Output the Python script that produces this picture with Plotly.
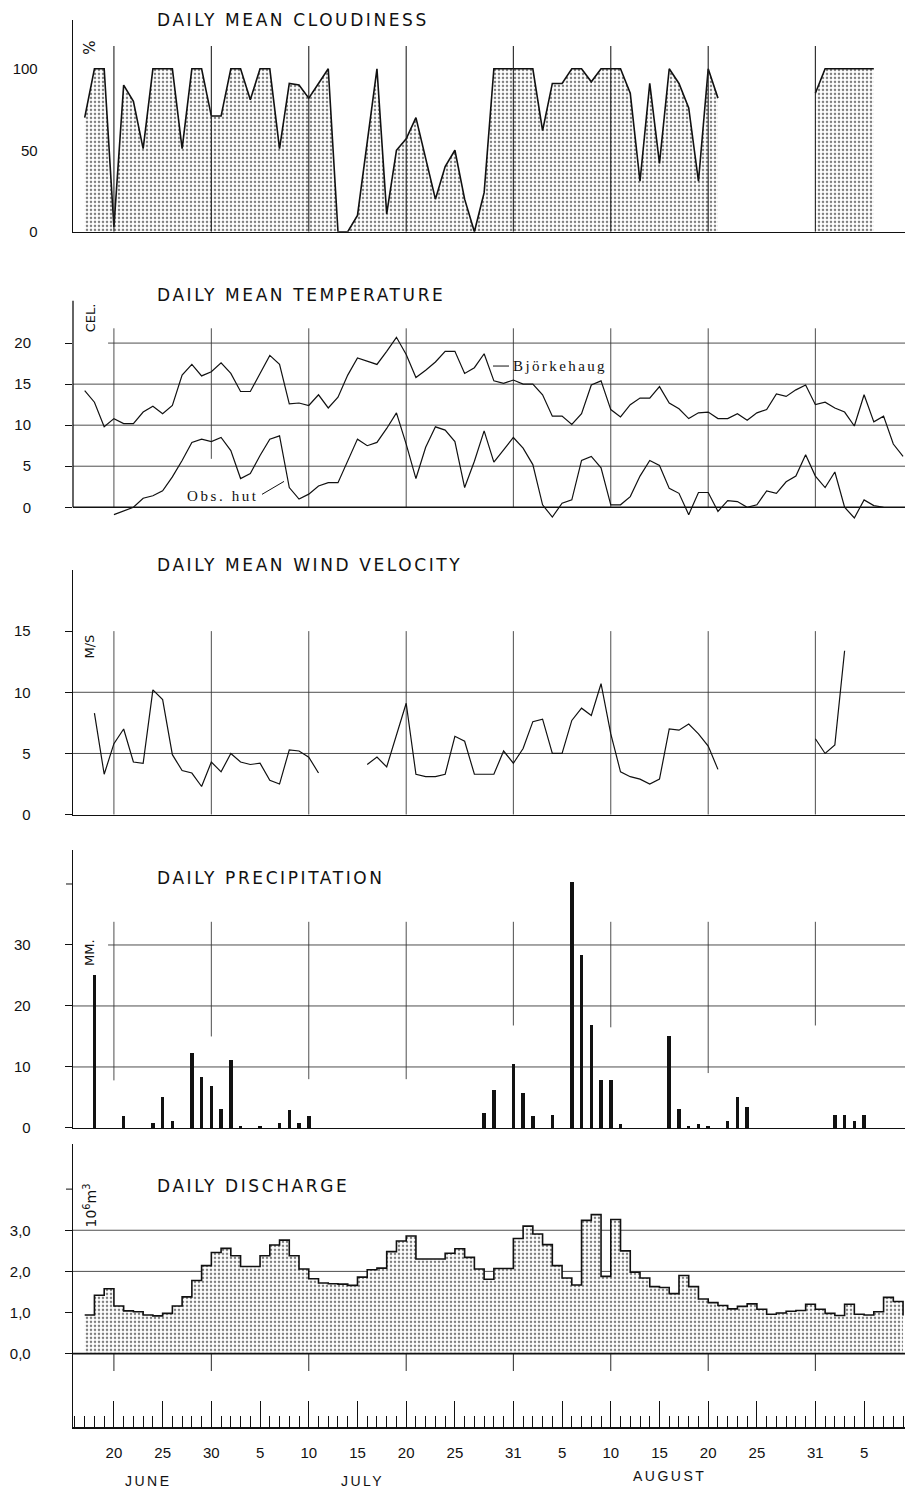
import plotly.graph_objects as go

# ---------------- data (day numbers: 1 = 1 June) ----------------
cloud_days = list(range(17, 99))
cloud_pct = [
    70, 100, 100, 3, 90, 80, 51, 100, 100, 100,       # 17-26
    51, 100, 100, 71, 71, 100, 100, 81, 100, 100,     # 27-36
    51, 91, 90, 82, 91, 100, 0, 0, 10, 55,            # 37-46
    100, 11, 50, 57, 70, 45, 20, 40, 50, 20,          # 47-56
    0, 24, 100, 100, 100, 100, 100, 62, 91, 91,       # 57-66
    100, 100, 92, 100, 100, 100, 85, 31, 91, 42,      # 67-76
    100, 91, 76, 31, 100, 82,                         # 77-82
    None, None, None, None, None, None, None, None, None,  # 83-91
    85, 100, 100, 100, 100, 100, 100,                 # 92-98
]

temp_bj_days = list(range(17, 102))
temp_bj = [
    14.2, 12.8, 9.8, 10.8, 10.2, 10.2, 11.6, 12.3, 11.4, 12.4,
    16.1, 17.4, 16.0, 16.5, 17.6, 16.3, 14.1, 14.1, 16.3, 18.5,
    17.4, 12.6, 12.7, 12.4, 13.7, 12.1, 13.4, 16.1, 18.2, 17.8,
    17.4, 19.0, 20.7, 18.6, 15.8, 16.7, 17.7, 19.0, 19.0, 16.3,
    17.0, 18.7, 15.4, 15.1, 15.5, 15.0, 15.0, 13.7, 11.1, 11.1,
    10.1, 11.4, 14.9, 15.4, 11.9, 11.0, 12.5, 13.3, 13.3, 14.7,
    12.7, 12.0, 10.8, 11.5, 11.6, 10.8, 10.8, 11.4, 10.6, 11.5,
    11.9, 13.8, 13.5, 14.3, 14.9, 12.5, 12.8, 12.1, 11.6, 9.9,
    13.7, 10.4, 11.1, 7.7, 6.2,
]

temp_hut_days = list(range(20, 100))
temp_hut = [
    -0.9, -0.45, 0.0, 1.1, 1.4, 2.0, 3.7, 5.7, 7.9, 8.3,
    8.0, 8.5, 6.9, 3.5, 4.1, 6.3, 8.3, 8.7, 2.4, 1.0,
    1.6, 2.6, 3.0, 3.0, 5.7, 8.3, 7.5, 7.9, 9.6, 11.5,
    7.7, 3.5, 7.3, 9.8, 9.4, 8.0, 2.4, 5.6, 9.3, 5.5,
    7.0, 8.5, 7.2, 5.2, 0.3, -1.2, 0.5, 0.9, 5.7, 6.2,
    4.8, 0.3, 0.3, 1.3, 3.8, 5.7, 5.1, 2.3, 1.7, -0.9,
    1.8, 1.8, -0.5, 0.8, 0.7, 0.0, 0.3, 2.0, 1.7, 3.1,
    3.8, 6.4, 3.8, 2.4, 4.3, 0.0, -1.3, 0.9, 0.2, 0.0,
]

wind_days = list(range(18, 96))
wind_ms = [
    8.3, 3.3, 5.8, 7.0, 4.3, 4.2, 10.2, 9.4, 4.9, 3.6,      # 18-27
    3.4, 2.3, 4.3, 3.5, 5.0, 4.3, 4.1, 4.2, 2.8, 2.5,       # 28-37
    5.3, 5.2, 4.7, 3.4, None, None, None, None, 4.1, 4.7,   # 38-47
    3.9, 6.6, 9.1, 3.3, 3.1, 3.1, 3.3, 6.4, 6.0, 3.3,       # 48-57
    3.3, 3.3, 5.2, 4.2, 5.4, 7.6, 7.8, 5.0, 5.0, 7.7,       # 58-67
    8.7, 8.1, 10.7, 6.6, 3.5, 3.1, 2.9, 2.5, 2.9, 7.0,      # 68-77
    6.9, 7.4, 6.6, 5.6, 3.7, None, None, None, None, None,  # 78-87
    None, None, None, None, 6.2, 5.0, 5.7, 13.4,            # 88-95
]

prec_days = [18, 21, 24, 25, 26, 28, 29, 30, 31, 32, 33, 35, 37, 38, 39, 40,
             58, 59, 61, 62, 63, 65, 67, 68, 69, 70, 71, 72,
             77, 78, 79, 80, 81, 83, 84, 85, 94, 95, 96, 97]
prec_mm = [25.1, 2.0, 0.8, 5.1, 1.2, 12.3, 8.4, 6.8, 3.1, 11.2, 0.4, 0.3, 0.8, 3.0, 0.8, 1.9,
           2.5, 6.3, 10.5, 5.7, 1.9, 2.2, 40.3, 28.3, 16.8, 7.8, 7.8, 0.7,
           15.1, 3.1, 0.3, 0.6, 0.3, 1.1, 5.0, 3.5, 2.2, 2.2, 1.1, 2.1]

disch_days = list(range(17, 102))
disch = [
    0.94, 1.42, 1.58, 1.16, 1.04, 1.02, 0.94, 0.92, 0.98, 1.16,   # 17-26
    1.38, 1.78, 2.14, 2.46, 2.56, 2.38, 2.12, 2.12, 2.38, 2.64,   # 27-36
    2.76, 2.38, 2.06, 1.82, 1.72, 1.70, 1.69, 1.66, 1.86, 2.04,   # 37-46
    2.08, 2.48, 2.74, 2.86, 2.30, 2.30, 2.30, 2.44, 2.55, 2.34,   # 47-56
    2.06, 1.81, 2.07, 2.07, 2.80, 3.10, 2.91, 2.65, 2.14, 1.84,   # 57-66
    1.67, 3.24, 3.38, 1.88, 3.26, 2.50, 1.98, 1.84, 1.63, 1.61,   # 67-76
    1.46, 1.90, 1.63, 1.33, 1.24, 1.17, 1.09, 1.15, 1.21, 1.08,   # 77-86
    0.96, 0.99, 1.03, 1.05, 1.20, 1.08, 0.98, 0.93, 1.20, 0.96,   # 87-96
    0.94, 1.02, 1.37, 1.27, 0.93,                                 # 97-101
]

grid_days = [20, 30, 40, 50, 61, 71, 81, 92]
tick_days = [20, 25, 30, 35, 40, 45, 50, 55, 61, 66, 71, 76, 81, 86, 92, 97]
tick_labels = ['20', '25', '30', '5', '10', '15', '20', '25', '31', '5', '10', '15', '20', '25', '31', '5']
month_names = ['JUNE', 'JULY', 'AUGUST']

# ---------------- layout helpers ----------------
W, H = 907, 1499
ML, MR = 73, 2
X_MIN, X_MAX = 15.8, 101.2
PLOT_W = W - ML - MR


def pyp(p):
    return 1 - p / H


def pxp(p):
    return (p - ML) / PLOT_W


def runs(xs, ys):
    """Split a series into runs of consecutive non-missing values."""
    out, cx, cy = [], [], []
    for x, y in zip(xs, ys):
        if y is None:
            if cx:
                out.append((cx, cy))
            cx, cy = [], []
        else:
            cx.append(x)
            cy.append(y)
    if cx:
        out.append((cx, cy))
    return out


panels = [
    (20, 233, [0, 130]),
    (302, 526.5, [-2, 25.2]),
    (573, 819, [0, 20]),
    (855, 1134, [0, 45.5]),
    (1150, 1435, [-1.79, 5.1]),
]

INK = '#111111'
GRID = '#3a3a3a'
pattern = dict(shape='.', size=4, solidity=0.32, fgcolor='black', bgcolor='white')

fig = go.Figure()

# cloudiness (each observed run filled separately)
for rx, ry in runs(cloud_days, cloud_pct):
    fig.add_trace(go.Scatter(x=rx, y=ry, mode='lines', xaxis='x', yaxis='y',
                             line=dict(color=INK, width=1.6), fill='tozeroy', fillpattern=pattern,
                             hoverinfo='skip'))
# temperature
fig.add_trace(go.Scatter(x=temp_bj_days, y=temp_bj, mode='lines', xaxis='x2', yaxis='y2',
                         line=dict(color=INK, width=1.2), hoverinfo='skip'))
fig.add_trace(go.Scatter(x=temp_hut_days, y=temp_hut, mode='lines', xaxis='x2', yaxis='y2',
                         line=dict(color=INK, width=1.2), hoverinfo='skip'))
# wind
fig.add_trace(go.Scatter(x=wind_days, y=wind_ms, mode='lines', xaxis='x3', yaxis='y3',
                         line=dict(color=INK, width=1.2), connectgaps=False, hoverinfo='skip'))
# precipitation
fig.add_trace(go.Bar(x=prec_days, y=prec_mm, xaxis='x4', yaxis='y4', width=0.36,
                     marker=dict(color=INK, line=dict(width=0)), hoverinfo='skip'))
# discharge
fig.add_trace(go.Scatter(x=disch_days, y=disch, mode='lines', xaxis='x5', yaxis='y5',
                         line=dict(color=INK, width=1.6, shape='hv'), fill='tozeroy',
                         fillpattern=pattern, hoverinfo='skip'))

layout = dict(
    width=W, height=H, autosize=False,
    margin=dict(l=ML, r=MR, t=0, b=0, pad=0),
    paper_bgcolor='white', plot_bgcolor='rgba(0,0,0,0)',
    showlegend=False, bargap=0,
    font=dict(family='Liberation Sans, Arial, sans-serif', color=INK),
)

ytick_sets = [
    ([0, 50, 100], ['0', '50', '100'], ''),
    ([0, 5, 10, 15, 20], ['0', '5', '10', '15', '20'], 'outside'),
    ([0, 5, 10, 15], ['0', '5', '10', '15'], 'outside'),
    ([0, 10, 20, 30], ['0', '10', '20', '30'], 'outside'),
    ([0, 1, 2, 3], ['0,0', '1,0', '2,0', '3,0'], 'outside'),
]

for i, (top, bot, yr) in enumerate(panels):
    n = '' if i == 0 else str(i + 1)
    tv, tt, tk = ytick_sets[i]
    layout['xaxis' + n] = dict(
        domain=[0, 1], range=[X_MIN, X_MAX], anchor='y' + n,
        showgrid=False, zeroline=False, showticklabels=False, ticks='',
        showline=(i != 1), linecolor=INK, linewidth=1.3, fixedrange=True,
    )
    layout['yaxis' + n] = dict(
        domain=[pyp(bot), pyp(top)], range=yr, anchor='x' + n,
        showgrid=False, zeroline=False, showline=(i != 1), linecolor=INK, linewidth=1.3,
        tickmode='array', tickvals=tv, ticktext=tt, ticks=tk, ticklen=7,
        tickcolor=INK, tickwidth=1, ticklabelstandoff=31,
        tickfont=dict(size=15, family='Liberation Sans, Arial, sans-serif', color=INK),
        fixedrange=True,
    )

layout['xaxis5'].update(
    showticklabels=True, ticks='inside', ticklen=26, tickwidth=1, tickcolor=INK,
    tickmode='array', tickvals=tick_days, ticktext=tick_labels, ticklabelstandoff=11,
    tickfont=dict(size=15, family='Liberation Sans, Arial, sans-serif', color=INK),
    minor=dict(ticks='inside', ticklen=11, dtick=1, tick0=0, tickcolor=INK, tickwidth=1),
)

shapes = []


def hline(n, y, x0, x1, layer='below', width=0.9, color=GRID):
    shapes.append(dict(type='line', xref='x' + n, yref='y' + n, x0=x0, x1=x1, y0=y, y1=y,
                       line=dict(color=color, width=width), layer=layer))


def vline(n, x, y0, y1, layer='below', width=0.9, color=GRID):
    shapes.append(dict(type='line', xref='x' + n, yref='y' + n, x0=x, x1=x, y0=y0, y1=y1,
                       line=dict(color=color, width=width), layer=layer))


def ytick(n, y):
    # unlabelled tick on the outside of the left axis
    shapes.append(dict(type='line', xref='x' + n + ' domain', yref='y' + n, x0=-7 / PLOT_W, x1=0,
                       y0=y, y1=y, line=dict(color=INK, width=1)))


# panel 1 grid (verticals drawn over the fill)
for d in grid_days:
    vline('', d, 0, 114, layer='above', width=1.1, color='#222')

# panel 2 grid and axes
for yv in [5, 10, 15]:
    hline('2', yv, X_MIN, X_MAX)
hline('2', 20, 19.4, X_MAX)
hut_grid_bottom = [0, 5.9, 0, 0, 0, 0, 0, 0]
for d, yb in zip(grid_days, hut_grid_bottom):
    vline('2', d, yb, 21.8)
hline('2', 0, X_MIN, X_MAX, layer='above', width=1.3, color=INK)
shapes.append(dict(type='line', xref='x2 domain', yref='y2', x0=0, x1=0, y0=0, y1=25.2,
                   line=dict(color=INK, width=1.3)))

# panel 3 grid
for yv in [5, 10]:
    hline('3', yv, X_MIN, X_MAX)
for d in grid_days:
    vline('3', d, 0, 15)

# panel 4 grid
for yv in [10, 20]:
    hline('4', yv, X_MIN, X_MAX)
hline('4', 30, 19.4, X_MAX)
prec_grid_bottom = [7.8, 15, 8, 8, 16.8, 16.5, 9, 16.8]
for d, yb in zip(grid_days, prec_grid_bottom):
    vline('4', d, yb, 33.8)
ytick('4', 40)

# panel 5 grid (behind the opaque fill)
for yv in [2, 3]:
    hline('5', yv, X_MIN, X_MAX)
for d in grid_days:
    vline('5', d, -0.42, 0, layer='above', color=INK)
hline('5', 0, X_MIN, X_MAX, layer='above', width=1.8, color=INK)
ytick('5', 4)

# leader lines for temperature labels
shapes.append(dict(type='line', xref='paper', yref='paper', x0=pxp(493), x1=pxp(509),
                   y0=pyp(368), y1=pyp(368), line=dict(color=INK, width=1)))
shapes.append(dict(type='line', xref='paper', yref='paper', x0=pxp(262), x1=pxp(284),
                   y0=pyp(497), y1=pyp(484), line=dict(color=INK, width=1)))

layout['shapes'] = shapes

annotations = []
TITLE_FONT = dict(family='DejaVu Sans, sans-serif', size=17, color=INK)


def spaced(text, sp):
    return '<span style="letter-spacing:%spx">%s</span>' % (sp, text)


titles = [
    ('DAILY MEAN CLOUDINESS', 20),
    ('DAILY MEAN TEMPERATURE', 297),
    ('DAILY MEAN WIND VELOCITY', 568),
    ('DAILY PRECIPITATION', 883),
    ('DAILY DISCHARGE', 1192),
]
for t, yc in titles:
    annotations.append(dict(text=spaced(t, 2.6), xref='paper', yref='paper', x=pxp(155), y=pyp(yc),
                            xanchor='left', yanchor='middle', showarrow=False, font=TITLE_FONT))

units = [('%', 48, 15), ('CEL.', 320, 13), ('M/S', 650, 13), ('MM.', 958, 13),
         ('10<sup>6</sup>m<sup>3</sup>', 1212, 14)]
for t, yc, fs in units:
    annotations.append(dict(text=t, xref='paper', yref='paper', x=pxp(90), y=pyp(yc),
                            xanchor='center', yanchor='middle', textangle=-90, showarrow=False,
                            font=dict(family='DejaVu Sans, sans-serif', size=fs, color=INK)))

SERIF = dict(family='Liberation Serif, Times New Roman, serif', size=15, color=INK)
annotations.append(dict(text=spaced('Björkehaug', 2.4), xref='paper', yref='paper', x=pxp(511), y=pyp(368),
                        xanchor='left', yanchor='middle', showarrow=False, font=SERIF))
annotations.append(dict(text=spaced('Obs. hut', 2.6), xref='paper', yref='paper', x=pxp(185), y=pyp(499),
                        xanchor='left', yanchor='middle', showarrow=False, font=SERIF))

month_pos = [(23.6, 1489), (45.5, 1489), (77.0, 1484)]
for name, (xd, yc) in zip(month_names, month_pos):
    annotations.append(dict(text=spaced(name, 2.5), xref='x5', yref='paper', x=xd, y=pyp(yc),
                            xanchor='center', yanchor='middle', showarrow=False,
                            font=dict(family='Liberation Sans, Arial, sans-serif', size=14, color=INK)))

layout['annotations'] = annotations
fig.update_layout(**layout)

fig.write_html("out.html", config={'displayModeBar': False, 'staticPlot': True},
               post_script="document.body.style.margin='0';document.body.style.overflow='hidden';")
